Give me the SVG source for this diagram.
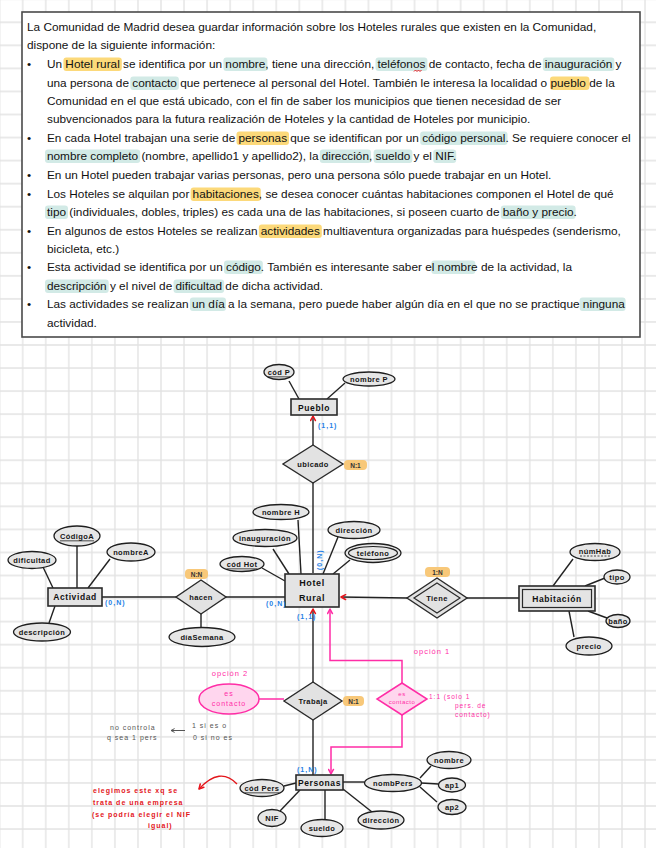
<svg xmlns="http://www.w3.org/2000/svg" width="656" height="848" viewBox="0 0 656 848">
<defs>
<pattern id="grid" patternUnits="userSpaceOnUse" x="-11.875" y="-12.275" width="23.05" height="23.05">
<path d="M11.525 0V23.05M0 11.525H23.05" stroke="#e2e2e2" stroke-width="1.3" fill="none"/>
</pattern>
<marker id="arR" viewBox="0 0 10 10" refX="8" refY="5" markerWidth="7" markerHeight="7" orient="auto" markerUnits="userSpaceOnUse">
<path d="M1.5,1.5 L8,5 L1.5,8.5" fill="none" stroke="#e8141c" stroke-width="2.2" stroke-linecap="round" stroke-linejoin="round"/>
</marker>
<marker id="arM" viewBox="0 0 10 10" refX="8" refY="5" markerWidth="7" markerHeight="7" orient="auto" markerUnits="userSpaceOnUse">
<path d="M1.5,1.5 L8,5 L1.5,8.5" fill="none" stroke="#ff2da6" stroke-width="2.2" stroke-linecap="round" stroke-linejoin="round"/>
</marker>
<marker id="arG" viewBox="0 0 10 10" refX="8" refY="5" markerWidth="5" markerHeight="5" orient="auto" markerUnits="userSpaceOnUse">
<path d="M1.5,1.5 L8,5 L1.5,8.5" fill="none" stroke="#555" stroke-width="2" stroke-linecap="round"/>
</marker>
</defs>
<style>
.bx{font-family:"Liberation Sans",Arial,sans-serif;font-size:11.8px;fill:#111}
.hy{fill:#fcd97a}
.ht{fill:#d2eae6}
.ent{fill:#e4e4e4;stroke:#2a2a2a;stroke-width:1.6}
.att{fill:#e6e6e6;stroke:#1e1e1e;stroke-width:1.3}
.rel{fill:#e2e2e2;stroke:#2a2a2a;stroke-width:1.4}
.ln{fill:none;stroke:#222;stroke-width:1.4}
.te{font-family:"Liberation Sans",Arial,sans-serif;font-size:8.5px;font-weight:bold;letter-spacing:.6px;fill:#111;text-anchor:middle;dominant-baseline:central}
.ta{font-family:"Liberation Sans",Arial,sans-serif;font-size:7.5px;font-weight:bold;letter-spacing:.4px;fill:#151515;text-anchor:middle;dominant-baseline:central}
.tb{font-family:"Liberation Sans",Arial,sans-serif;font-size:7px;font-weight:bold;fill:#1f7fe6;letter-spacing:1px}
.bd{fill:#f8c879}
.tbd{font-family:"Liberation Sans",Arial,sans-serif;font-size:6.5px;font-weight:bold;fill:#333;text-anchor:middle;dominant-baseline:central}
.pk{fill:#ffd6ee;stroke:#ff2da6;stroke-width:1.5}
.pl{fill:none;stroke:#ff2da6;stroke-width:1.5}
.tp{font-family:"Liberation Sans",Arial,sans-serif;font-size:7.5px;fill:#ff2da6;letter-spacing:1px}
.tr{font-family:"Liberation Sans",Arial,sans-serif;font-size:7px;font-weight:bold;fill:#e3161b;letter-spacing:1px}
.tg{font-family:"Liberation Sans",Arial,sans-serif;font-size:7px;fill:#555;letter-spacing:1px}
.ul{text-decoration:underline}
</style>
<rect x="0" y="0" width="656" height="848" fill="#ffffff"/>
<rect x="0" y="0" width="656" height="848" fill="url(#grid)"/>

<g id="enunciado">
<rect x="22" y="12" width="618" height="325" fill="#ffffff" stroke="#4a4a4a" stroke-width="1.6"/>
<g id="resaltados">
<rect class="hy" x="63.4" y="57.5" width="58.4" height="13.5" rx="3"/>
<rect class="ht" x="223.4" y="57.5" width="44" height="13.5" rx="3"/>
<rect class="ht" x="375.5" y="57.5" width="51.9" height="13.5" rx="3"/>
<rect class="ht" x="542.8" y="57.5" width="71.6" height="13.5" rx="3"/>
<rect class="ht" x="130.3" y="76.5" width="48.6" height="13.5" rx="3"/>
<rect class="hy" x="550" y="76.5" width="39.4" height="13.5" rx="3"/>
<rect class="hy" x="236.5" y="131.5" width="52.5" height="13.5" rx="3"/>
<rect class="ht" x="420.2" y="131.5" width="87.3" height="13.5" rx="3"/>
<rect class="ht" x="45" y="149.5" width="95.2" height="13.5" rx="3"/>
<rect class="ht" x="319.8" y="149.5" width="51.2" height="13.5" rx="3"/>
<rect class="ht" x="373.6" y="149.5" width="38.8" height="13.5" rx="3"/>
<rect class="ht" x="433.2" y="149.5" width="23" height="13.5" rx="3"/>
<rect class="hy" x="190.6" y="187.5" width="70.2" height="13.5" rx="3"/>
<rect class="ht" x="45" y="205.5" width="23" height="13.5" rx="3"/>
<rect class="ht" x="500.8" y="205.5" width="74.8" height="13.5" rx="3"/>
<rect class="hy" x="258.8" y="224.5" width="63" height="13.5" rx="3"/>
<rect class="ht" x="224" y="260.5" width="38.8" height="13.5" rx="3"/>
<rect class="ht" x="431.3" y="260.5" width="44" height="13.5" rx="3"/>
<rect class="ht" x="45" y="279.5" width="63.7" height="13.5" rx="3"/>
<rect class="ht" x="173.5" y="279.5" width="50.6" height="13.5" rx="3"/>
<rect class="ht" x="189.9" y="297.5" width="36.1" height="13.5" rx="3"/>
<rect class="ht" x="579.6" y="297.5" width="46" height="13.5" rx="3"/>
</g>
<path d="M414,71.5 l1.5,-1.5 l1.5,1.5 l1.5,-1.5 l1.5,1.5 l1.5,-1.5" fill="none" stroke="#e3161b" stroke-width="1"/>
<g class="bx">
<text x="27" y="30.5">La Comunidad de Madrid desea guardar información sobre los Hoteles rurales que existen en la Comunidad,</text>
<text x="27" y="48.5">dispone de la siguiente información:</text>
<text x="27" y="67.5">•</text>
<text x="47" y="67.5">Un Hotel rural se identifica por un nombre, tiene una dirección, teléfonos de contacto, fecha de inauguración y</text>
<text x="47" y="86.5">una persona de contacto que pertenece al personal del Hotel. También le interesa la localidad o pueblo de la</text>
<text x="47" y="104.5">Comunidad en el que está ubicado, con el fin de saber los municipios que tienen necesidad de ser</text>
<text x="47" y="122.5">subvencionados para la futura realización de Hoteles y la cantidad de Hoteles por municipio.</text>
<text x="27" y="141.5">•</text>
<text x="47" y="141.5">En cada Hotel trabajan una serie de personas que se identifican por un código personal. Se requiere conocer el</text>
<text x="47" y="159.5">nombre completo (nombre, apellido1 y apellido2), la dirección, sueldo y el NIF.</text>
<text x="27" y="178.5">•</text>
<text x="47" y="178.5">En un Hotel pueden trabajar varias personas, pero una persona sólo puede trabajar en un Hotel.</text>
<text x="27" y="197.5">•</text>
<text x="47" y="197.5">Los Hoteles se alquilan por habitaciones, se desea conocer cuántas habitaciones componen el Hotel de qué</text>
<text x="47" y="215.5">tipo (individuales, dobles, triples) es cada una de las habitaciones, si poseen cuarto de baño y precio.</text>
<text x="27" y="234.5">•</text>
<text x="47" y="234.5">En algunos de estos Hoteles se realizan actividades multiaventura organizadas para huéspedes (senderismo,</text>
<text x="47" y="252.5">bicicleta, etc.)</text>
<text x="27" y="270.5">•</text>
<text x="47" y="270.5">Esta actividad se identifica por un código. También es interesante saber el nombre de la actividad, la</text>
<text x="47" y="289.5">descripción y el nivel de dificultad de dicha actividad.</text>
<text x="27" y="307.5">•</text>
<text x="47" y="307.5">Las actividades se realizan un día a la semana, pero puede haber algún día en el que no se practique ninguna</text>
<text x="47" y="326.5">actividad.</text>
</g>
</g>

<g id="connectors">
<path class="ln" d="M289,381 L299,399"/>
<path class="ln" d="M345,383 L327,399"/>
<path class="ln" d="M313,445 V416" marker-end="url(#arR)"/>
<path class="ln" d="M313,483 V573"/>
<path class="ln" d="M298,520 L301,574"/>
<path class="ln" d="M273,549 L289,574"/>
<path class="ln" d="M262,568 L285,581"/>
<path class="ln" d="M338,537 L323,574"/>
<path class="ln" d="M350,560 L333,574"/>
<path class="ln" d="M43,567 L53,588"/>
<path class="ln" d="M77,546 V588"/>
<path class="ln" d="M110,559 L88,588"/>
<path class="ln" d="M55,606 L49,623"/>
<path class="ln" d="M102,597 H176"/>
<path class="ln" d="M226,597 H285"/>
<path class="ln" d="M201,614 V627.5"/>
<path class="ln" d="M407,598 L341,597" marker-end="url(#arR)"/>
<path class="ln" d="M467,598 H519"/>
<path class="ln" d="M553,586 L573,559"/>
<path class="ln" d="M585,586 L605,578"/>
<path class="ln" d="M588,611 L607,618"/>
<path class="ln" d="M569,611 L574,637"/>
<path class="ln" d="M313,682 V609" marker-end="url(#arR)"/>
<path class="ln" d="M313,720 V775"/>
<path class="ln" d="M284,786 L296,783"/>
<path class="ln" d="M280,811 L300,790"/>
<path class="ln" d="M325,819.5 V790"/>
<path class="ln" d="M372,812 L343,789"/>
<path class="ln" d="M343,782 H364.5"/>
<path class="ln" d="M420,778 L431,766"/>
<path class="ln" d="M421,783 L438.5,784"/>
<path class="ln" d="M420,787 L437,802"/>
<path class="pl" d="M259,699 H284"/>
<path class="pl" d="M402,683 V660.5 H330 V609" marker-end="url(#arM)"/>
<path class="pl" d="M402,715 V747 H331 V774" marker-end="url(#arM)"/>
<path d="M237,784 Q220,766 199,789" fill="none" stroke="#e3161b" stroke-width="1.4" marker-end="url(#arR)"/>
<path d="M185,730.5 H171" fill="none" stroke="#555" stroke-width="1" marker-end="url(#arG)"/>
</g>

<g id="pueblo">
<rect class="ent" x="291" y="399" width="46" height="16"/>
<text class="te" x="314" y="407.5">Pueblo</text>
</g>
<g id="codP">
<ellipse class="att" cx="279" cy="372" rx="15" ry="7.5"/>
<text class="ta ul" x="279" y="372">cód P</text>
</g>
<g id="nombreP">
<ellipse class="att" cx="369" cy="379" rx="26" ry="7"/>
<text class="ta" x="369" y="379">nombre P</text>
</g>
<g id="ubicado">
<polygon class="rel" points="313,445 343,464 313,483 283,464"/>
<text class="ta" x="313" y="464">ubicado</text>
<text class="tb" x="318" y="428">(1,1)</text>
<rect class="bd" x="344" y="460" width="23" height="10" rx="4"/>
<text class="tbd" x="355.5" y="465.5">N:1</text>
</g>

<g id="hotelRural">
<rect class="ent" x="285" y="574" width="54" height="33"/>
<text class="te" x="312" y="583" style="font-size:9px">Hotel</text>
<text class="te" x="312" y="598" style="font-size:9px">Rural</text>
<text class="tb" transform="translate(321.5,570) rotate(-90)">(0,N)</text>
<text class="tb" x="266" y="606">(0,N)</text>
<text class="tb" x="297" y="619">(1,1)</text>
</g>
<g id="nombreH">
<ellipse class="att" cx="281" cy="512" rx="28" ry="7.5"/>
<text class="ta" x="281" y="512">nombre H</text>
</g>
<g id="inauguracion">
<ellipse class="att" cx="265" cy="538" rx="32" ry="8.5"/>
<text class="ta" x="265" y="538">inauguración</text>
</g>
<g id="codHot">
<ellipse class="att" cx="242" cy="564" rx="22" ry="7.5"/>
<text class="ta ul" x="242" y="564">cód Hot</text>
</g>
<g id="direccionH">
<ellipse class="att" cx="354" cy="530" rx="26" ry="8.5"/>
<text class="ta" x="354" y="530">dirección</text>
</g>
<g id="telefono">
<ellipse class="att" cx="373" cy="553" rx="28" ry="9.5"/>
<ellipse cx="373" cy="553" rx="24.5" ry="6.5" fill="none" stroke="#1e1e1e" stroke-width="1.2"/>
<text class="ta" x="373" y="553">teléfono</text>
</g>

<g id="actividad">
<rect class="ent" x="48" y="588" width="54" height="18"/>
<text class="te" x="75" y="597">Actividad</text>
<text class="tb" x="105" y="605">(0,N)</text>
</g>
<g id="dificultad">
<ellipse class="att" cx="32" cy="560" rx="24" ry="8.5"/>
<text class="ta" x="32" y="560">dificultad</text>
</g>
<g id="codigoA">
<ellipse class="att" cx="77" cy="536" rx="23" ry="10"/>
<text class="ta ul" x="77" y="536">CódigoA</text>
</g>
<g id="nombreA">
<ellipse class="att" cx="131" cy="552" rx="24" ry="9"/>
<text class="ta" x="131" y="552">nombreA</text>
</g>
<g id="descripcion">
<ellipse class="att" cx="42" cy="632" rx="28.5" ry="9"/>
<text class="ta" x="42" y="632">descripción</text>
</g>
<g id="hacen">
<polygon class="rel" points="201,580 226,597 201,614 176,597"/>
<text class="ta" x="201" y="597">hacen</text>
<rect class="bd" x="185" y="569" width="23" height="10" rx="4"/>
<text class="tbd" x="196.5" y="574.5">N:N</text>
</g>
<g id="diaSemana">
<ellipse class="att" cx="202" cy="637" rx="33" ry="9.5"/>
<text class="ta" x="202" y="637">díaSemana</text>
</g>

<g id="tiene">
<polygon class="rel" points="437,578 467,598 437,618 407,598"/>
<polygon points="437,583 460,598 437,613 414,598" fill="none" stroke="#2a2a2a" stroke-width="1.2"/>
<text class="ta" x="437" y="598">Tiene</text>
<rect class="bd" x="425" y="567" width="25" height="10" rx="4"/>
<text class="tbd" x="437.5" y="572.5">1:N</text>
</g>
<g id="habitacion">
<rect class="ent" x="519" y="586" width="76" height="25"/>
<rect x="522.5" y="589.5" width="69" height="18" fill="none" stroke="#2a2a2a" stroke-width="1.2"/>
<text class="te" x="557" y="598.5">Habitación</text>
</g>
<g id="numHab">
<ellipse class="att" cx="595" cy="552" rx="25" ry="8.5"/>
<text class="ta" x="595" y="551">númHab</text>
<path d="M580,556 H610" stroke="#1e1e1e" stroke-width="0.8" stroke-dasharray="2 1.5"/>
</g>
<g id="tipo">
<ellipse class="att" cx="617" cy="577" rx="13" ry="7"/>
<text class="ta" x="617" y="577">tipo</text>
</g>
<g id="bano">
<ellipse class="att" cx="618" cy="621" rx="12" ry="6.5"/>
<text class="ta" x="618" y="621">baño</text>
</g>
<g id="precio">
<ellipse class="att" cx="589" cy="646" rx="23" ry="9"/>
<text class="ta" x="589" y="646">precio</text>
</g>

<g id="trabaja">
<polygon class="rel" points="313,682 342,701 313,720 284,701"/>
<text class="ta" x="313" y="701">Trabaja</text>
<rect class="bd" x="343" y="696" width="21" height="10" rx="4"/>
<text class="tbd" x="353.5" y="701.5">N:1</text>
</g>
<g id="esContactoAtrib">
<text class="tp" x="230" y="676" text-anchor="middle">opción 2</text>
<ellipse class="pk" cx="229" cy="699" rx="30" ry="15"/>
<text class="tp" x="229" y="696" text-anchor="middle" style="font-size:7px">es</text>
<text class="tp" x="229" y="706" text-anchor="middle" style="font-size:7px">contacto</text>
</g>
<g id="esContactoRel">
<text class="tp" x="432" y="654" text-anchor="middle">opción 1</text>
<polygon class="pk" points="402,683 427,699 402,715 377,699"/>
<text class="tp" x="402" y="696" text-anchor="middle" style="font-size:6px;letter-spacing:.5px">es</text>
<text class="tp" x="402" y="704" text-anchor="middle" style="font-size:6px;letter-spacing:.5px">contacto</text>
<text class="tp" x="429" y="699" style="font-size:6.5px">1:1 (solo 1</text>
<text class="tp" x="455" y="708" style="font-size:6.5px">pers. de</text>
<text class="tp" x="455" y="717" style="font-size:6.5px">contacto)</text>
</g>

<g id="personas">
<rect class="ent" x="296" y="775" width="47" height="15"/>
<text class="te" x="319.5" y="782.5">Personas</text>
<text class="tb" x="297" y="772">(1,N)</text>
</g>
<g id="codPers">
<ellipse class="att" cx="262" cy="788" rx="22" ry="8.5"/>
<text class="ta ul" x="262" y="788">cód Pers</text>
</g>
<g id="nif">
<ellipse class="att" cx="272" cy="818" rx="14" ry="8.5"/>
<text class="ta" x="272" y="818">NIF</text>
</g>
<g id="sueldo">
<ellipse class="att" cx="322" cy="828" rx="21" ry="8.5"/>
<text class="ta" x="322" y="828">sueldo</text>
</g>
<g id="direccionP">
<ellipse class="att" cx="381" cy="820" rx="23" ry="9"/>
<text class="ta" x="381" y="820">dirección</text>
</g>
<g id="nombPers">
<ellipse class="att" cx="393" cy="783" rx="28.5" ry="8.5"/>
<text class="ta" x="393" y="783">nombPers</text>
</g>
<g id="nombre">
<ellipse class="att" cx="449" cy="760" rx="22" ry="8.5"/>
<text class="ta" x="449" y="760">nombre</text>
</g>
<g id="ap1">
<ellipse class="att" cx="452" cy="785" rx="13.5" ry="7"/>
<text class="ta" x="452" y="785">ap1</text>
</g>
<g id="ap2">
<ellipse class="att" cx="452" cy="807" rx="14" ry="7.5"/>
<text class="ta" x="452" y="807">ap2</text>
</g>

<g id="notas">
<text class="tg" x="110" y="729.5">no controla</text>
<text class="tg" x="107" y="739.5">q sea 1 pers</text>
<text class="tg" x="192" y="728">1 si es o</text>
<text class="tg" x="193" y="740">0 si no es</text>
<text class="tr" x="93" y="793">elegimos este xq se</text>
<text class="tr" x="93" y="804.5">trata de una empresa</text>
<text class="tr" x="92" y="816.5">(se podría elegir el NIF</text>
<text class="tr" x="148" y="828">igual)</text>
</g>
</svg>
